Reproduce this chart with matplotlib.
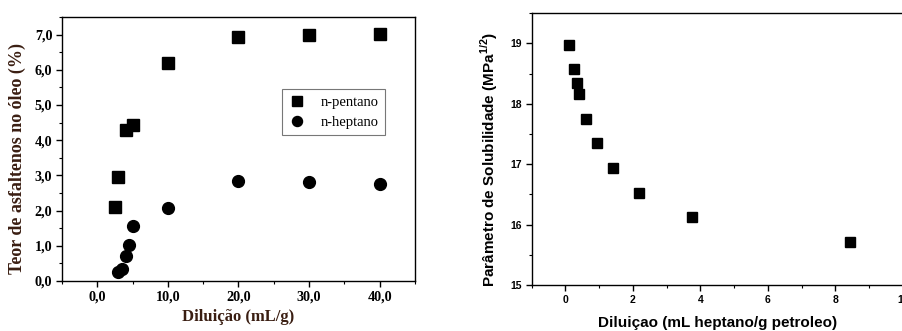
import matplotlib
matplotlib.use("Agg")
import matplotlib.pyplot as plt
from matplotlib.ticker import MultipleLocator, FuncFormatter

# Left panel data
pent_x = [2.5, 3.0, 4.0, 5.0, 10.0, 20.0, 30.0, 40.0]
pent_y = [2.10, 2.95, 4.29, 4.42, 6.18, 6.93, 6.98, 7.02]
hept_x = [2.9, 3.5, 4.0, 4.5, 5.0, 10.0, 20.0, 30.0, 40.0]
hept_y = [0.26, 0.33, 0.72, 1.02, 1.55, 2.07, 2.84, 2.82, 2.75]

# Right panel data
dil_x = [0.11, 0.24, 0.33, 0.41, 0.62, 0.94, 1.41, 2.18, 3.74, 8.42]
sol_y = [18.98, 18.57, 18.34, 18.17, 17.75, 17.35, 16.94, 16.53, 16.12, 15.71]

W, H = 903, 331
fig = plt.figure(figsize=(W / 100, H / 100), dpi=100)

serif = ["Liberation Serif", "DejaVu Serif"]
sans = ["Liberation Sans", "DejaVu Sans"]
label_col = "#3a1e12"
plt.rcParams["mathtext.fontset"] = "custom"
plt.rcParams["mathtext.rm"] = "Liberation Sans"
plt.rcParams["mathtext.bf"] = "Liberation Sans:bold"

# ---------------- left panel ----------------
l, r, t, b = 62, 415, 17, 281
ax1 = fig.add_axes([l / W, (H - b) / H, (r - l) / W, (b - t) / H])
ax1.plot(pent_x, pent_y, ls="none", marker="s", ms=8, color="black", label="n-pentano")
ax1.plot(hept_x, hept_y, ls="none", marker="o", ms=8.5, color="black", label="n-heptano")
ax1.set_xlim(-5, 45)
ax1.set_ylim(0, 7.5)
ax1.xaxis.set_major_locator(MultipleLocator(10))
ax1.xaxis.set_minor_locator(MultipleLocator(5))
ax1.yaxis.set_major_locator(MultipleLocator(1))
ax1.yaxis.set_minor_locator(MultipleLocator(0.5))
comma = FuncFormatter(lambda v, p: f"{v:.1f}".replace(".", ","))
ax1.xaxis.set_major_formatter(comma)
ax1.yaxis.set_major_formatter(comma)
ax1.tick_params(which="major", direction="out", length=4, width=1, pad=3)
ax1.tick_params(which="minor", direction="out", length=2, width=0.8)
for lab in ax1.get_xticklabels() + ax1.get_yticklabels():
    lab.set_fontfamily(serif)
    lab.set_fontweight("bold")
    lab.set_fontsize(10.2)
for s in ax1.spines.values():
    s.set_linewidth(1)
ax1.set_xlabel("Diluição (mL/g)", fontfamily=serif, fontweight="bold", fontsize=12,
               color=label_col, labelpad=4)
ax1.set_ylabel("Teor de asfaltenos no óleo (%)", fontfamily=serif, fontweight="bold",
               fontsize=13, color=label_col)
ax1.yaxis.set_label_coords(-(l - 26) / (r - l), (b - 158.5) / (b - t))
leg = ax1.legend(loc="upper left", bbox_to_anchor=((281.7 - l) / (r - l), (b - 89.3) / (b - t)),
                 prop={"family": serif, "size": 10.5}, frameon=True, fancybox=False,
                 edgecolor="#555555", handletextpad=1.0, borderpad=0.45, borderaxespad=0,
                 labelspacing=0.45, handlelength=1.2, markerscale=0.85)
leg.get_frame().set_linewidth(0.8)

# ---------------- right panel ----------------
l2, r2, t2, b2 = 531.7, 903, 13.3, 285
ax2 = fig.add_axes([l2 / W, (H - b2) / H, (r2 - l2) / W, (b2 - t2) / H])
ax2.plot(dil_x, sol_y, ls="none", marker="s", ms=7.8, color="black")
ax2.set_xlim(-1, 10)
ax2.set_ylim(15, 19.5)
ax2.xaxis.set_major_locator(MultipleLocator(2))
ax2.xaxis.set_minor_locator(MultipleLocator(1))
ax2.yaxis.set_major_locator(MultipleLocator(1))
ax2.yaxis.set_minor_locator(MultipleLocator(0.5))
ax2.tick_params(which="major", direction="out", length=4, width=1, pad=3)
ax2.tick_params(which="minor", direction="out", length=2, width=0.8)
for lab in ax2.get_xticklabels() + ax2.get_yticklabels():
    lab.set_fontfamily(sans)
    lab.set_fontweight("bold")
    lab.set_fontsize(7.5)
for s in ax2.spines.values():
    s.set_linewidth(1)
ax2.set_xlabel("Diluiçao (mL heptano/g petroleo)", fontfamily=sans, fontweight="bold",
               fontsize=11, labelpad=8)
ax2.set_ylabel(r"Parâmetro de Solubilidade (MPa$^{\mathbf{1/2}}$)", fontfamily=sans,
               fontweight="bold", fontsize=11)
ax2.yaxis.set_label_coords(-(l2 - 500) / (r2 - l2), (b2 - 160) / (b2 - t2))

fig.savefig("out.png", dpi=100)
